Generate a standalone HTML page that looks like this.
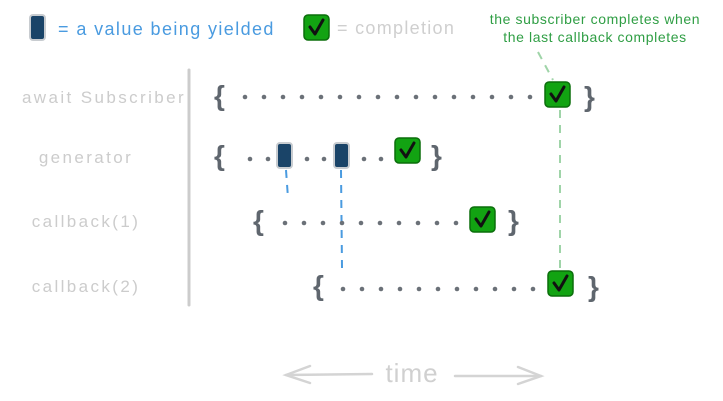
<!DOCTYPE html>
<html><head><meta charset="utf-8"><style>
html,body{margin:0;padding:0;background:#fff;width:723px;height:401px;overflow:hidden}
svg{display:block}
text{font-family:"Liberation Sans",sans-serif}
</style></head><body>
<svg width="723" height="401" viewBox="0 0 723 401" xmlns="http://www.w3.org/2000/svg">
<defs>
<g id="chk"><rect x="0" y="0" width="25" height="25" rx="4" fill="#12a312" stroke="#0b6e0b" stroke-width="1.5"/><path d="M6 12 L11 19 L19 5" fill="none" stroke="#111" stroke-width="3" stroke-linecap="round" stroke-linejoin="round"/></g>
<g id="blk"><rect x="0" y="0" width="15" height="25" rx="3" fill="#1a4468" stroke="#c8ccd0" stroke-width="2"/></g>
</defs>
<!-- legend -->
<use href="#blk" x="30" y="15"/>
<text x="58" y="35" font-size="18" letter-spacing="1.4" fill="#4a9be0">= a value being yielded</text>
<use href="#chk" x="304" y="15"/>
<text x="337" y="34" font-size="18" letter-spacing="1.3" fill="#cfcfcf">= completion</text>
<text x="595" y="24" font-size="14" letter-spacing="0.6" fill="#2f9e44" text-anchor="middle">the subscriber completes when</text>
<text x="595" y="42" font-size="14" letter-spacing="0.6" fill="#2f9e44" text-anchor="middle">the last callback completes</text>
<!-- labels -->
<g font-size="17" letter-spacing="2.4" fill="#cccccc" text-anchor="middle">
<text x="104" y="103">await Subscriber</text>
<text x="86" y="163">generator</text>
<text x="86" y="227">callback(1)</text>
<text x="86" y="292">callback(2)</text>
</g>
<line x1="189" y1="70" x2="189" y2="305" stroke="#cccccc" stroke-width="3" stroke-linecap="round"/>
<!-- connectors -->
<g fill="none" stroke-width="2" stroke-dasharray="8 7">
<line x1="286" y1="170" x2="288" y2="198" stroke="#4a9be0"/>
<line x1="341" y1="170" x2="342" y2="268" stroke="#4a9be0"/>
<line x1="538" y1="52" x2="553" y2="80" stroke="#9fd4a8"/>
<line x1="560" y1="110" x2="560" y2="268" stroke="#9fd4a8"/>
</g>
<!-- braces -->
<g font-size="28" font-weight="bold" fill="#5f666e">
<text x="214" y="105">{</text><text x="584" y="106">}</text>
<text x="214" y="165">{</text><text x="431" y="165">}</text>
<text x="253" y="230">{</text><text x="508" y="230">}</text>
<text x="313" y="295">{</text><text x="588" y="296">}</text>
</g>
<!-- dots -->
<g fill="#6b7178">
<circle cx="245" cy="97" r="2.3"/><circle cx="264" cy="97" r="2.3"/><circle cx="283" cy="97" r="2.3"/><circle cx="302" cy="97" r="2.3"/><circle cx="321" cy="97" r="2.3"/><circle cx="340" cy="97" r="2.3"/><circle cx="359" cy="97" r="2.3"/><circle cx="378" cy="97" r="2.3"/><circle cx="397" cy="97" r="2.3"/><circle cx="416" cy="97" r="2.3"/><circle cx="435" cy="97" r="2.3"/><circle cx="454" cy="97" r="2.3"/><circle cx="473" cy="97" r="2.3"/><circle cx="492" cy="97" r="2.3"/><circle cx="511" cy="97" r="2.3"/><circle cx="530" cy="97" r="2.3"/>
<circle cx="250" cy="159" r="2.3"/><circle cx="268" cy="159" r="2.3"/><circle cx="307" cy="159" r="2.3"/><circle cx="324" cy="159" r="2.3"/><circle cx="364" cy="159" r="2.3"/><circle cx="381" cy="159" r="2.3"/>
<circle cx="285" cy="223" r="2.3"/><circle cx="304" cy="223" r="2.3"/><circle cx="323" cy="223" r="2.3"/><circle cx="342" cy="223" r="2.3"/><circle cx="361" cy="223" r="2.3"/><circle cx="380" cy="223" r="2.3"/><circle cx="399" cy="223" r="2.3"/><circle cx="418" cy="223" r="2.3"/><circle cx="437" cy="223" r="2.3"/><circle cx="456" cy="223" r="2.3"/>
<circle cx="343" cy="289" r="2.3"/><circle cx="362" cy="289" r="2.3"/><circle cx="381" cy="289" r="2.3"/><circle cx="400" cy="289" r="2.3"/><circle cx="419" cy="289" r="2.3"/><circle cx="438" cy="289" r="2.3"/><circle cx="457" cy="289" r="2.3"/><circle cx="476" cy="289" r="2.3"/><circle cx="495" cy="289" r="2.3"/><circle cx="514" cy="289" r="2.3"/><circle cx="533" cy="289" r="2.3"/>
</g>
<!-- blocks & checks -->
<use href="#blk" x="277" y="143"/>
<use href="#blk" x="334" y="143"/>
<use href="#chk" x="545" y="82"/>
<use href="#chk" x="395" y="138"/>
<use href="#chk" x="470" y="207"/>
<use href="#chk" x="548" y="271"/>
<!-- time -->
<g stroke="#d4d4d4" stroke-width="2.5" fill="none" stroke-linecap="round">
<path d="M286 375 L372 374"/><path d="M310 366 L286 375 L310 383"/>
<path d="M455 376 L541 376"/><path d="M518 367 L541 376 L518 384"/>
</g>
<text x="412" y="382" font-size="26" letter-spacing="1" fill="#d0d0d0" text-anchor="middle">time</text>
</svg>
</body></html>
